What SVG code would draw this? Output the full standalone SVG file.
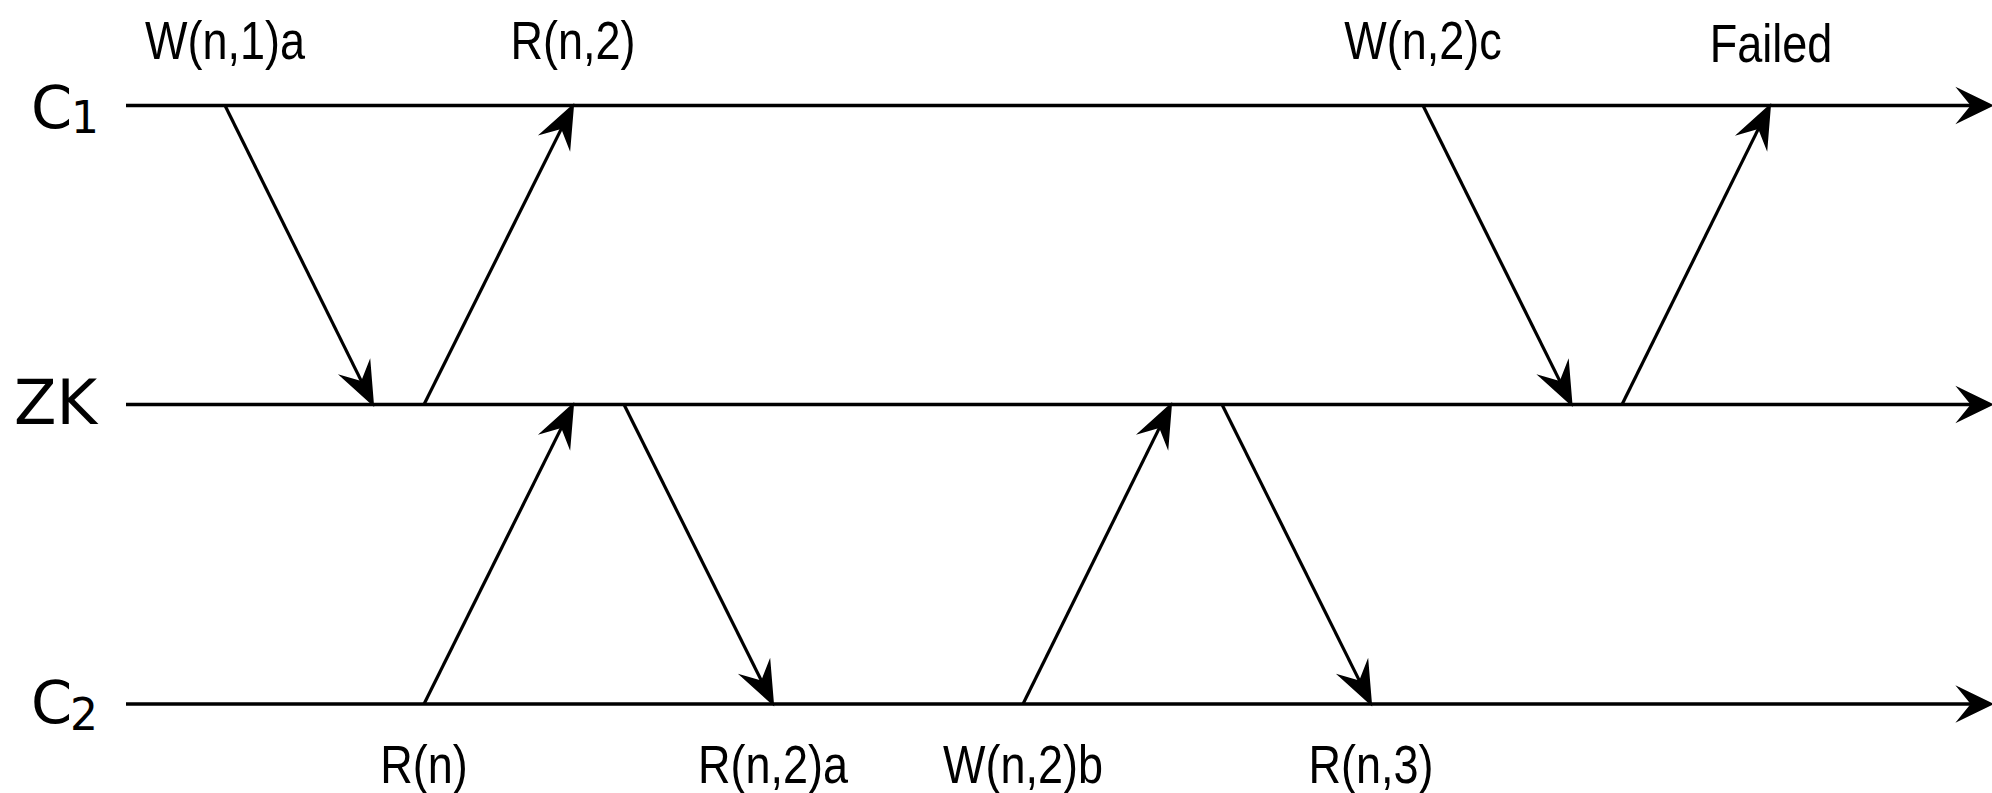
<svg xmlns="http://www.w3.org/2000/svg" width="1992" height="793" viewBox="0 0 1992 793">
  <style>
    .axis { stroke: #000; stroke-width: 3.6; fill: none; }
    .msg { stroke: #000; stroke-width: 3.2; fill: none; marker-end: url(#head); }
    .label { font-family: "Liberation Sans", Arial, sans-serif; font-size: 45px; fill: #000; text-anchor: middle; }
    .proc { font-family: "DejaVu Sans", sans-serif; fill: #000; }
    .tip { fill: #000; stroke: #000; stroke-width: 2; stroke-linejoin: miter; stroke-miterlimit: 10; }
  </style>
  <defs>
    <marker id="head" viewBox="-46 -20 50 40" refX="-20" refY="0" markerWidth="50" markerHeight="40" orient="auto" markerUnits="userSpaceOnUse">
      <path class="tip" d="M0,0 L-39,-15.5 L-25,0 L-39,15.5 Z"/>
    </marker>
    <marker id="axisHead" viewBox="-40 -20 44 40" refX="-17" refY="0" markerWidth="44" markerHeight="40" orient="auto" markerUnits="userSpaceOnUse">
      <path class="tip" d="M0,0 L-33,-16 L-20,0 L-33,16 Z"/>
    </marker>
  </defs>
  <rect width="1992" height="793" fill="#fff"/>

  <!-- process timelines -->
  <g id="c1">
    <text class="proc" font-size="59" x="31" y="128">C</text>
    <text class="proc" font-size="44" x="71" y="133">1</text>
    <line class="axis" x1="126" y1="105.5" x2="1975" y2="105.5" marker-end="url(#axisHead)"/>
  </g>
  <g id="zk">
    <text class="proc" font-size="62" x="14" y="424">ZK</text>
    <line class="axis" x1="126" y1="404.5" x2="1975" y2="404.5" marker-end="url(#axisHead)"/>
  </g>
  <g id="c2">
    <text class="proc" font-size="59" x="31" y="723">C</text>
    <text class="proc" font-size="44" x="70" y="730">2</text>
    <line class="axis" x1="126" y1="704" x2="1975" y2="704" marker-end="url(#axisHead)"/>
  </g>

  <!-- messages between processes -->
  <g id="connectors">
    <line class="msg" x1="225" y1="105.5" x2="364.1" y2="386.6"/>
    <line class="msg" x1="424" y1="404.5" x2="564.1" y2="123.4"/>
    <line class="msg" x1="424" y1="704" x2="564.1" y2="422.4"/>
    <line class="msg" x1="624" y1="404.5" x2="764.1" y2="686.1"/>
    <line class="msg" x1="1023" y1="704" x2="1162.1" y2="422.4"/>
    <line class="msg" x1="1222" y1="404.5" x2="1362.1" y2="686.1"/>
    <line class="msg" x1="1423" y1="105.5" x2="1562.6" y2="386.6"/>
    <line class="msg" x1="1622" y1="404.5" x2="1761.1" y2="123.4"/>
  </g>

  <!-- operation labels -->
  <g id="labels">
    <text class="label" transform="translate(225,59) scale(1,1.2)">W(n,1)a</text>
    <text class="label" transform="translate(573,59) scale(1,1.2)">R(n,2)</text>
    <text class="label" transform="translate(1423,59) scale(1,1.2)">W(n,2)c</text>
    <text class="label" transform="translate(1771,62) scale(1,1.2)">Failed</text>
    <text class="label" transform="translate(424,783) scale(1,1.2)">R(n)</text>
    <text class="label" transform="translate(773,783) scale(1,1.2)">R(n,2)a</text>
    <text class="label" transform="translate(1023,783) scale(1,1.2)">W(n,2)b</text>
    <text class="label" transform="translate(1371,783) scale(1,1.2)">R(n,3)</text>
  </g>
</svg>
